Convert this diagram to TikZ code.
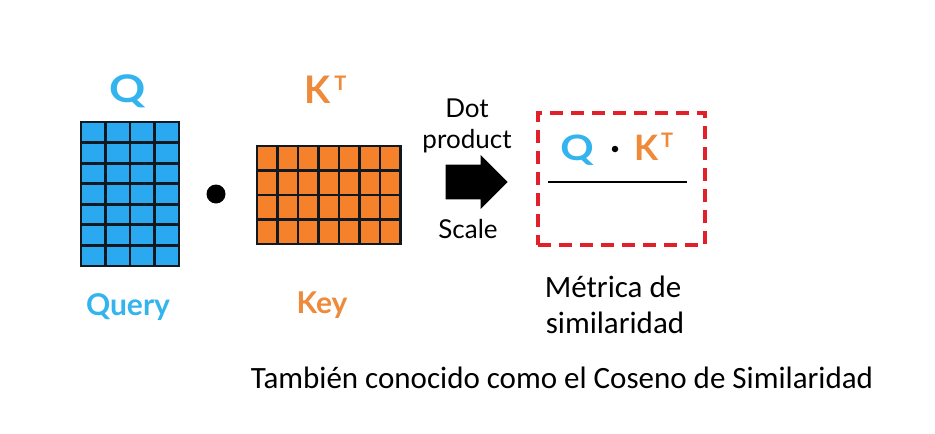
\documentclass[tikz,border=0pt]{standalone}
\usepackage{fontspec}
\setmainfont{Carlito}
\newfontfamily\gillfont{Lato}
\usetikzlibrary{positioning,shapes.arrows}
\definecolor{qBlue}{HTML}{2AA8F0}
\definecolor{qLbl}{HTML}{33B4EE}
\definecolor{kOrange}{HTML}{F5822A}
\definecolor{kLbl}{HTML}{EE8A3A}
\definecolor{gridInk}{HTML}{101820}
\definecolor{boxRed}{HTML}{E2202A}
\tikzset{
  cellgrid/.style = {line width=2.8pt, color=gridInk, line cap=rect},
  symlbl/.style   = {font=\gillfont\bfseries\fontsize{38}{40}\selectfont, inner sep=0, anchor=base},
  namelbl/.style  = {font=\gillfont\bfseries\fontsize{30}{32}\selectfont, inner sep=0, anchor=base},
  steplbl/.style  = {font=\gillfont\fontsize{26}{28}\selectfont, inner sep=0, anchor=base},
  note/.style     = {font=\fontsize{31}{36}\selectfont, inner sep=0, anchor=base},
  simframe/.style = {draw=boxRed, line width=3.6pt, dash pattern=on 13pt off 8pt,
                     minimum width=167pt, minimum height=132pt, inner sep=0},
  fracrule/.style = {line width=2.8pt, color=black},
}
% #1 x, #2 y of top left, #3 columns, #4 rows, #5 cell width, #6 cell height, #7 fill
\newcommand{\matgrid}[7]{%
  \fill[#7] (#1,#2) rectangle ({#1+#3*#5},{#2+#4*#6});
  \foreach \cc in {0,...,#3}
    {\draw[cellgrid] ({#1+\cc*#5},#2) -- ({#1+\cc*#5},{#2+#4*#6});}
  \foreach \rr in {0,...,#4}
    {\draw[cellgrid] (#1,{#2+\rr*#6}) -- ({#1+#3*#5},{#2+\rr*#6});}}
\newcommand{\wideQ}{\scalebox{1.18}[1]{Q}}
\newcommand{\supT}[1]{\hspace{#1}\raisebox{13pt}{\fontsize{20}{22}\selectfont T}}
\begin{document}
\begin{tikzpicture}[x=1pt, y=-1pt]
\useasboundingbox[fill=white] (0,0) rectangle (935,434);

% ===================== the two matrices =====================
\node[symlbl, text=qLbl] (qsym) at (128,102) {\wideQ};
\matgrid{81}{122}{4}{7}{24.5}{20.57}{qBlue}
\node[namelbl, text=qLbl] (qname) at (128,315) {Query};

\node[circle, fill=black, minimum size=19pt, inner sep=0] (dotop) at (216,194) {};

\node[symlbl, text=kLbl, anchor=base west] (ksym) at (304,103) {K\supT{4pt}};
\matgrid{257}{146}{7}{4}{20.5}{24.5}{kOrange}
\node[namelbl, text=kLbl] (kname) at (322,313) {Key};

% ===================== dot product, then scale =====================
\node[steplbl] (dotlbl)  at (467,117) {Dot};
\node[steplbl] (prodlbl) at (467,148) {product};
\node[single arrow, fill=black, inner sep=0, text height=25pt, text depth=0pt,
      minimum height=62pt, minimum width=54pt,
      single arrow head indent=0pt] (dparrow) at (468,182) {};
\node[steplbl] (scalelbl) at (468,238) {Scale};

% ===================== the similarity metric =====================
\node[simframe] (simbox) at (621.5,179) {};
\node[symlbl, text=qLbl, font=\gillfont\bfseries\fontsize{35}{38}\selectfont] (qtop) at (577,160) {\wideQ};
\node[circle, fill=black, minimum size=6.5pt, inner sep=0] (qkdot) at (615,149) {};
\node[symlbl, text=kLbl, anchor=base west, font=\gillfont\bfseries\fontsize{35}{38}\selectfont]
  (ktop) at (634,160) {K\supT{3pt}};
\draw[fracrule] (548,182) -- (687,182);

\node[note] (metrica) at (613,297) {Métrica de};
\node[note] (simil)   at (615,333) {similaridad};
\node[note] (coseno)  at (562,388) {También conocido como el Coseno de Similaridad};
\end{tikzpicture}
\end{document}
